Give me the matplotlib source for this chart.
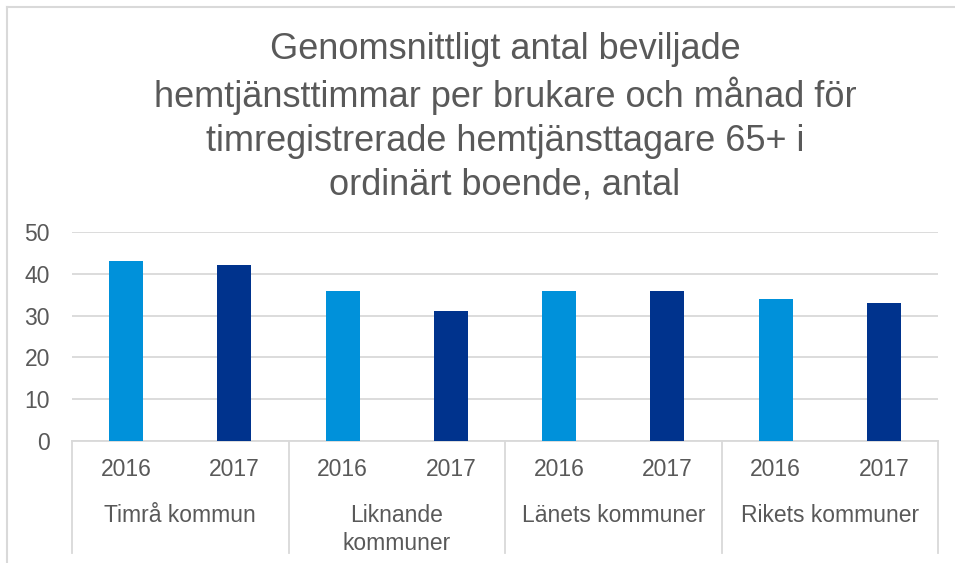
import matplotlib.pyplot as plt
import numpy as np

plt.rcParams['font.family'] = ['Liberation Sans', 'DejaVu Sans']

# data
kategorier = ['Timrå kommun', 'Liknande\nkommuner', 'Länets kommuner', 'Rikets kommuner']
ar = ['2016', '2017']
varden_2016 = [43, 36, 36, 34]
varden_2017 = [42, 31, 36, 33]
rubrik = ('Genomsnittligt antal beviljade\nhemtjänsttimmar per brukare och månad för\n'
          'timregistrerade hemtjänsttagare 65+ i\nordinärt boende, antal')

ljusbla = '#0091da'
morkbla = '#00338d'
gra_text = '#595959'
gra_linje = '#d9d9d9'

W, H = 955, 563
fig = plt.figure(figsize=(W / 100, H / 100), dpi=100)
ax = fig.add_axes([72 / W, 1 - 441 / H, (938 - 72) / W, (441 - 232) / H])

x16 = np.arange(len(kategorier)) * 2
x17 = x16 + 1
bredd = 0.314
ax.bar(x16, varden_2016, bredd, color=ljusbla, zorder=3)
ax.bar(x17, varden_2017, bredd, color=morkbla, zorder=3)

ax.set_xlim(-0.5, 2 * len(kategorier) - 0.5)
ax.set_ylim(0, 50)
ax.set_yticks(range(0, 51, 10))
ax.grid(axis='y', color=gra_linje, linewidth=1.3, zorder=0)
for s in ['top', 'right', 'left']:
    ax.spines[s].set_visible(False)
ax.spines['bottom'].set_color(gra_linje)
ax.spines['bottom'].set_linewidth(1.3)
ax.tick_params(axis='y', length=0, labelsize=16.5, labelcolor=gra_text, pad=16)
ax.set_xticks([])

trans = ax.get_xaxis_transform()
px = 1 / (441 - 232)
for i in range(len(kategorier)):
    ax.text(x16[i], -29 * px, ar[0], transform=trans, ha='center', va='center',
            fontsize=16.5, color=gra_text)
    ax.text(x17[i], -29 * px, ar[1], transform=trans, ha='center', va='center',
            fontsize=16.5, color=gra_text)
    ax.text(x16[i] + 0.5, -63 * px, kategorier[i], transform=trans, ha='center', va='top',
            fontsize=16.5, color=gra_text, linespacing=1.3)
for k in range(len(kategorier) + 1):
    ax.plot([2 * k - 0.5, 2 * k - 0.5], [0, -112 * px], transform=trans, color=gra_linje,
            linewidth=1.3, clip_on=False)

fig.text(0.5 * (72 + 938) / W, 1 - 32 / H, rubrik, ha='center', va='top', fontsize=26,
         color=gra_text, linespacing=1.32)

# ram runt diagrammet
fig.add_artist(plt.Line2D([7 / W, 7 / W], [0, 1 - 7 / H], color=gra_linje, linewidth=1.5))
fig.add_artist(plt.Line2D([7 / W, 1], [1 - 7 / H, 1 - 7 / H], color=gra_linje, linewidth=1.5))

fig.savefig('out.png', dpi=100, facecolor='white')
